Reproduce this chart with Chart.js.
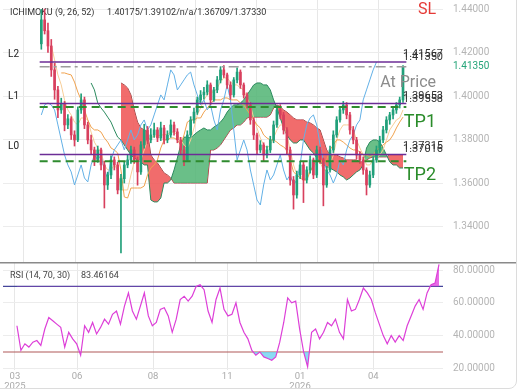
<!DOCTYPE html>
<html>
<head>
<meta charset="utf-8">
<script src="https://cdn.jsdelivr.net/npm/chart.js@4.4.1/dist/chart.umd.min.js"></script>
<style>
  body { margin: 0; background: #fff; }
  #wrap { position: relative; width: 520px; height: 390px; overflow: hidden; }
  #main { position: absolute; left: 0; top: 0; }
  #rsi { position: absolute; left: 0; top: 262px; }
  #frame { position: absolute; left: -12px; top: -12px; width: 529px; height: 401px; border: 1px solid #dcdcdc; border-radius: 8px; box-sizing: border-box; pointer-events: none; }
</style>
</head>
<body>
<div id="wrap">
  <canvas id="main" width="520" height="262"></canvas>
  <canvas id="rsi" width="520" height="128"></canvas>
  <div id="frame"></div>
</div>
<script>
Chart.defaults.font.family = 'Roboto, "Noto Sans", sans-serif';

// candles (daily, sampled)
const opens = [1.4240,1.4350,1.4300,1.4230,1.4120,1.4028,1.3936,1.3965,1.3867,1.3895,
  1.3821,1.3798,1.3936,1.3982,1.3867,1.3798,1.3752,1.3706,1.3752,1.3683,
  1.3591,1.3637,1.3706,1.3683,1.3568,1.3620,1.3683,1.3706,1.3752,1.3706,
  1.3651,1.3775,1.3844,1.3798,1.3821,1.3844,1.3807,1.3853,1.3798,1.3821,
  1.3867,1.3835,1.3798,1.3752,1.3706,1.3821,1.3890,1.3926,1.3982,1.4005,
  1.4018,1.4051,1.3982,1.4028,1.4074,1.4120,1.4097,1.4051,1.4005,1.4074,
  1.4110,1.4051,1.4005,1.3959,1.3890,1.3821,1.3752,1.3775,1.3729,1.3752,
  1.3798,1.3867,1.3936,1.3913,1.3844,1.3752,1.3614,1.3545,1.3637,1.3683,
  1.3614,1.3660,1.3706,1.3637,1.3752,1.3706,1.3591,1.3660,1.3752,1.3821,
  1.3890,1.3936,1.3959,1.3913,1.3844,1.3798,1.3729,1.3706,1.3660,1.3591,
  1.3637,1.3706,1.3752,1.3798,1.3844,1.3890,1.3913,1.3936,1.3959,1.3982];
const highs = [1.4398,1.4400,1.4335,1.4260,1.4150,1.4045,1.3990,1.3975,1.3915,1.3905,
  1.3840,1.3950,1.4010,1.3995,1.3880,1.3820,1.3765,1.3770,1.3760,1.3700,
  1.3650,1.3725,1.3720,1.3695,1.3640,1.3700,1.3730,1.3770,1.3765,1.3720,
  1.3790,1.3870,1.3860,1.3850,1.3875,1.3855,1.3880,1.3865,1.3840,1.3890,
  1.3880,1.3850,1.3810,1.3770,1.3840,1.3905,1.3945,1.3995,1.4025,1.4040,
  1.4070,1.4060,1.4040,1.4090,1.4135,1.4140,1.4105,1.4065,1.4085,1.4130,
  1.4120,1.4060,1.4015,1.3970,1.3900,1.3830,1.3795,1.3785,1.3770,1.3815,
  1.3885,1.3955,1.3960,1.3925,1.3855,1.3765,1.3630,1.3655,1.3700,1.3695,
  1.3675,1.3725,1.3715,1.3770,1.3765,1.3715,1.3675,1.3770,1.3840,1.3905,
  1.3950,1.3975,1.3970,1.3925,1.3860,1.3810,1.3745,1.3720,1.3670,1.3655,
  1.3720,1.3770,1.3815,1.3860,1.3905,1.3925,1.3950,1.3970,1.3995,1.4140];
const lows = [1.4215,1.4285,1.4200,1.4090,1.3985,1.3900,1.3920,1.3840,1.3850,1.3800,
  1.3770,1.3790,1.3920,1.3850,1.3780,1.3730,1.3680,1.3695,1.3660,1.3485,
  1.3570,1.3620,1.3660,1.3550,1.3278,1.3600,1.3670,1.3690,1.3690,1.3590,
  1.3640,1.3760,1.3780,1.3785,1.3810,1.3790,1.3795,1.3780,1.3785,1.3810,
  1.3820,1.3785,1.3735,1.3680,1.3700,1.3810,1.3875,1.3915,1.3970,1.3985,
  1.4005,1.3960,1.3975,1.4015,1.4060,1.4085,1.4035,1.3985,1.3995,1.4060,
  1.4035,1.3990,1.3945,1.3870,1.3800,1.3730,1.3740,1.3700,1.3715,1.3740,
  1.3785,1.3855,1.3895,1.3825,1.3735,1.3590,1.3480,1.3530,1.3620,1.3510,
  1.3600,1.3645,1.3620,1.3625,1.3690,1.3495,1.3580,1.3650,1.3740,1.3810,
  1.3880,1.3920,1.3895,1.3825,1.3780,1.3710,1.3690,1.3640,1.3545,1.3580,
  1.3625,1.3695,1.3740,1.3785,1.3830,1.3870,1.3895,1.3920,1.3945,1.3970];
const closes = [1.4350,1.4300,1.4230,1.4120,1.4028,1.3936,1.3965,1.3867,1.3895,1.3821,
  1.3798,1.3936,1.3982,1.3867,1.3798,1.3752,1.3706,1.3752,1.3683,1.3591,
  1.3637,1.3706,1.3683,1.3568,1.3620,1.3683,1.3706,1.3752,1.3706,1.3651,
  1.3775,1.3844,1.3798,1.3821,1.3844,1.3807,1.3853,1.3798,1.3821,1.3867,
  1.3835,1.3798,1.3752,1.3706,1.3821,1.3890,1.3926,1.3982,1.4005,1.4018,
  1.4051,1.3982,1.4028,1.4074,1.4120,1.4097,1.4051,1.4005,1.4074,1.4110,
  1.4051,1.4005,1.3959,1.3890,1.3821,1.3752,1.3775,1.3729,1.3752,1.3798,
  1.3867,1.3936,1.3913,1.3844,1.3752,1.3614,1.3545,1.3637,1.3683,1.3614,
  1.3660,1.3706,1.3637,1.3752,1.3706,1.3591,1.3660,1.3752,1.3821,1.3890,
  1.3936,1.3959,1.3913,1.3844,1.3798,1.3729,1.3706,1.3660,1.3591,1.3637,
  1.3706,1.3752,1.3798,1.3844,1.3890,1.3913,1.3936,1.3959,1.3982,1.4135];

// ichimoku lines
const tenkan = [null,null,null,1.4234,1.4166,1.4097,1.4051,1.3982,1.3936,1.3913,
  1.3880,1.3867,1.3899,1.3899,1.3890,1.3834,1.3788,1.3761,1.3743,1.3683,
  1.3660,1.3660,1.3683,1.3660,1.3568,1.3568,1.3568,1.3637,1.3697,1.3697,
  1.3706,1.3752,1.3798,1.3807,1.3816,1.3816,1.3821,1.3821,1.3825,1.3834,
  1.3834,1.3821,1.3798,1.3775,1.3761,1.3798,1.3853,1.3913,1.3945,1.3982,
  1.4005,1.4018,1.4018,1.4037,1.4064,1.4083,1.4083,1.4064,1.4051,1.4051,
  1.4037,1.4028,1.3991,1.3959,1.3899,1.3853,1.3807,1.3775,1.3761,1.3775,
  1.3807,1.3844,1.3867,1.3867,1.3821,1.3752,1.3683,1.3637,1.3637,1.3614,
  1.3623,1.3660,1.3669,1.3697,1.3697,1.3660,1.3660,1.3683,1.3729,1.3798,
  1.3844,1.3867,1.3867,1.3867,1.3844,1.3798,1.3761,1.3729,1.3683,1.3683,
  1.3706,1.3715,1.3729,1.3752,1.3798,1.3844,1.3867,1.3890,1.3899,1.3936];
const kijun = [null,null,null,null,null,null,1.4106,1.4106,1.4101,1.4097,
  1.4064,1.4018,1.3982,1.3936,1.3890,1.3857,1.3844,1.3844,1.3834,1.3807,
  1.3788,1.3761,1.3752,1.3738,1.3660,1.3536,1.3531,1.3577,1.3577,1.3577,
  1.3577,1.3586,1.3637,1.3669,1.3683,1.3706,1.3761,1.3798,1.3798,1.3807,
  1.3807,1.3798,1.3775,1.3821,1.3880,1.3890,1.3890,1.3899,1.3899,1.3926,
  1.3945,1.3963,1.3982,1.3982,1.3982,1.3991,1.3991,1.3982,1.3982,1.3982,
  1.3968,1.3959,1.3936,1.3913,1.3890,1.3867,1.3853,1.3821,1.3807,1.3798,
  1.3798,1.3788,1.3775,1.3766,1.3752,1.3706,1.3651,1.3637,1.3623,1.3614,
  1.3614,1.3651,1.3683,1.3706,1.3715,1.3683,1.3706,1.3752,1.3775,1.3798,
  1.3798,1.3788,1.3775,1.3761,1.3752,1.3752,1.3743,1.3729,1.3729,1.3720,
  1.3729,1.3752,1.3761,1.3775,1.3788,1.3798,1.3821,1.3853,1.3880,1.3903];
const chikou = [1.3913,1.3959,1.3968,1.3959,1.3936,1.3867,1.3798,1.3729,1.3683,1.3651,
  1.3591,1.3637,1.3683,1.3623,1.3605,1.3683,1.3729,1.3706,1.3729,1.3660,
  1.3623,1.3706,1.3752,1.3775,1.3798,1.3752,1.3798,1.3844,1.3798,1.3821,
  1.3867,1.3890,1.3844,1.3867,1.3913,1.3959,1.4005,1.3982,1.4051,1.4120,
  1.4097,1.4028,1.4051,1.4074,1.4097,1.4110,1.4051,1.4005,1.3959,1.3982,
  1.3936,1.3959,1.3890,1.3844,1.3936,1.3982,1.4051,1.3982,1.3844,1.3706,
  1.3752,1.3798,1.3752,1.3660,1.3591,1.3522,1.3499,1.3591,1.3660,1.3614,
  1.3637,1.3683,1.3729,1.3660,1.3614,1.3637,1.3591,1.3614,1.3683,1.3798,
  1.3867,1.3899,1.3913,1.3867,1.3775,1.3706,1.3660,1.3637,1.3600,1.3637,
  1.3706,1.3683,1.3752,1.3798,1.3821,1.3867,1.3890,1.3982,1.4028,1.4074,
  1.4120,1.4156,null,null,null,null,null,null,null,null];
const spanA = [null,null,null,null,null,null,null,null,null,null,
  null,null,null,null,null,1.4060,1.4028,1.3968,1.3945,1.3926,
  1.3903,1.3880,1.3844,1.3811,1.3798,1.3775,1.3752,1.3729,1.3715,1.3706,
  1.3697,1.3683,1.3683,1.3522,1.3513,1.3513,1.3531,1.3600,1.3600,1.3614,
  1.3660,1.3715,1.3775,1.3811,1.3811,1.3807,1.3821,1.3834,1.3844,1.3853,
  1.3844,1.3844,1.3857,1.3867,1.3880,1.3899,1.3926,1.3945,1.3959,1.3959,
  1.3968,1.3982,1.4005,1.4028,1.4051,1.4060,1.4060,1.4051,1.4051,1.4028,
  1.3982,1.3945,1.3899,1.3853,1.3821,1.3798,1.3784,1.3784,1.3798,1.3798,
  1.3775,1.3752,1.3738,1.3715,1.3697,1.3683,1.3674,1.3669,1.3660,1.3651,
  1.3637,1.3628,1.3614,1.3623,1.3637,1.3651,1.3660,1.3683,1.3761,1.3788,
  1.3798,1.3798,1.3788,1.3761,1.3729,1.3697,1.3683,1.3683,1.3669,1.3669];
const spanB = [null,null,null,null,null,null,null,null,null,null,
  null,null,null,null,null,null,null,null,null,null,
  null,null,null,null,1.4060,1.4051,1.4037,1.4005,1.3936,1.3880,
  1.3853,1.3844,1.3834,1.3729,1.3706,1.3692,1.3669,1.3646,1.3637,1.3623,
  1.3600,1.3600,1.3600,1.3600,1.3600,1.3600,1.3600,1.3600,1.3600,1.3600,
  1.3600,1.3752,1.3752,1.3761,1.3775,1.3798,1.3821,1.3844,1.3853,1.3867,
  1.3867,1.3880,1.3899,1.3903,1.3903,1.3903,1.3903,1.3903,1.3903,1.3913,
  1.3945,1.3959,1.3950,1.3936,1.3926,1.3913,1.3899,1.3890,1.3890,1.3890,
  1.3880,1.3876,1.3867,1.3853,1.3844,1.3798,1.3752,1.3729,1.3729,1.3729,
  1.3720,1.3715,1.3706,1.3706,1.3706,1.3706,1.3697,1.3697,1.3706,1.3715,
  1.3720,1.3720,1.3720,1.3720,1.3720,1.3729,1.3729,1.3729,1.3729,1.3729];

// RSI (14)
const rsiValues = [null,null,null,46,31,35,33,36,37,34,
  44,51,49,47,45,33,42,38,35,28,
  46,42,48,41,45,50,47,53,55,47,
  58,66,55,50,58,66,52,46,48,56,
  57,52,42,50,62,64,61,64,70,71,
  68,55,48,62,69,56,52,53,60,48,
  42,38,31,28,30,27,26,25,27,36,
  48,63,60,61,44,30,21,42,44,38,
  42,48,46,50,42,38,62,55,56,62,
  69,66,62,54,47,40,35,40,36,40,
  37,46,52,58,62,56,66,71,72,83.46164];

// levels
const levelNames = ['L2', 'L1', 'L0'];
const levelValues = [1.41567, 1.39653, 1.37315];
const levelTags = ['1.41567', '1.39653', '1.37315'];
const levelTags2 = ['1.41350', '1.39558', '1.37016'];
const lastPrice = 1.41350;
const tpNames = ['TP1', 'TP2'];
const tpValues = [1.3950, 1.3700];
const rsiBands = [70, 30];

// x axis ticks (candle index) and their labels
const tickIdx = [2.5, 18.1, 37.2, 55.8, 74.1, 92.5];
const tickText = [['03', '2025'], ['06'], ['08'], ['11'], ['01', '2026'], ['04']];

const xy = arr => arr.map((v, i) => ({ x: i, y: v }));
const hline = v => [{ x: -0.5, y: v }, { x: 110, y: v }];
const candleColor = closes.map((c, i) => c >= opens[i] ? '#21a07a' : '#d8405e');

const xGrid = { color: '#e7e7e7', drawTicks: false };
const setTicks = s => { s.ticks = tickIdx.map(v => ({ value: v })); };
const fixY = s => { s.width = 77; s.paddingTop = 0; s.paddingBottom = 0; };

// Texte oppå hovedgrafen
const mainText = {
  id: 'mainText',
  beforeDatasetsDraw(chart) {
    const ctx = chart.ctx;
    ctx.save();
    ctx.font = '9px Roboto';
    ctx.fillStyle = '#333';
    ctx.textBaseline = 'middle';
    ctx.fillText('ICHIMOKU (9, 26, 52)', 10, 13);
    ctx.fillText('1.40175/1.39102/n/a/1.36709/1.37330', 107, 13);
    ctx.restore();
  },
  afterDatasetsDraw(chart) {
    const { ctx, scales: { y } } = chart;
    ctx.save();
    ctx.textBaseline = 'alphabetic';
    levelValues.forEach((v, i) => {
      const py = y.getPixelForValue(v);
      ctx.font = '10px Roboto';
      ctx.fillStyle = '#222';
      ctx.textAlign = 'left';
      ctx.fillText(levelNames[i], 8, py - 5);
      ctx.font = '11px Roboto';
      ctx.fillStyle = '#333';
      ctx.textAlign = 'right';
      ctx.fillText(levelTags2[i], 443, py - 2);
      ctx.fillText(levelTags[i], 443, py - 5);
    });
    ctx.textAlign = 'right';
    ctx.font = '16px Roboto';
    ctx.fillStyle = '#e53935';
    ctx.fillText('SL', 436, 14);
    ctx.fillStyle = '#8c8c8c';
    ctx.fillText('At Price', 436, 87);
    ctx.font = '18px Roboto';
    ctx.fillStyle = '#2a8c2a';
    ctx.fillText(tpNames[0], 436, 127);
    ctx.fillText(tpNames[1], 436, 180);
    ctx.restore();
  },
  afterDraw(chart) {
    const { ctx, scales: { y } } = chart;
    ctx.save();
    ctx.font = '10px Roboto';
    ctx.fillStyle = '#26a57a';
    ctx.textBaseline = 'middle';
    ctx.fillText(lastPrice.toFixed(5), 453, y.getPixelForValue(lastPrice));
    ctx.restore();
  }
};

new Chart(document.getElementById('main').getContext('2d'), {
  data: {
    datasets: [
      { type: 'line', data: xy(spanB), borderColor: '#a8343f', borderWidth: 1, pointRadius: 0, order: 20 },
      { type: 'line', data: xy(spanA), borderColor: '#2b8a5e', borderWidth: 1, pointRadius: 0, order: 19,
        fill: { target: 0, above: 'rgba(80,180,115,0.85)', below: 'rgba(240,92,92,0.9)' } },
      { type: 'line', data: xy(tenkan), borderColor: '#f7cd96', borderWidth: 1, pointRadius: 0, order: 16 },
      { type: 'line', data: xy(kijun), borderColor: '#f0a24e', borderWidth: 1, pointRadius: 0, order: 15 },
      { type: 'line', data: xy(chikou), borderColor: '#62b0e6', borderWidth: 1, pointRadius: 0, order: 14 },
      { type: 'bar', data: lows.map((l, i) => ({ x: i, y: [l, highs[i]] })), backgroundColor: candleColor,
        barThickness: 1, grouped: false, order: 12 },
      { type: 'bar', data: opens.map((o, i) => ({ x: i, y: [o, closes[i]] })), backgroundColor: candleColor,
        barThickness: 2, minBarLength: 1, grouped: false, order: 11 },
      ...levelValues.map(v => ({ type: 'line', data: hline(v), borderColor: '#6c2d96', borderWidth: 1.5, pointRadius: 0, order: 2 })),
      { type: 'line', data: hline(lastPrice), borderColor: '#9c9c9c', borderWidth: 1.5, borderDash: [10, 4, 3, 4], pointRadius: 0, order: 3 },
      ...tpValues.map(v => ({ type: 'line', data: hline(v), borderColor: '#2e8b2e', borderWidth: 2, borderDash: [8, 5], pointRadius: 0, order: 2 }))
    ]
  },
  options: {
    responsive: false,
    devicePixelRatio: 1,
    animation: false,
    layout: { padding: { left: 3, right: 0, top: 0, bottom: 0 } },
    plugins: { legend: { display: false }, tooltip: { enabled: false } },
    scales: {
      x: {
        type: 'linear', min: -0.5, max: 110,
        afterBuildTicks: setTicks,
        afterFit: s => { s.height = 0; },
        ticks: { display: false },
        grid: xGrid,
        border: { display: false }
      },
      y: {
        position: 'right', min: 1.32368, max: 1.44414,
        afterFit: fixY,
        ticks: { stepSize: 0.02, includeBounds: false, padding: 10, color: '#b5b5b5', font: { size: 10 },
          callback: v => v.toFixed(5) },
        grid: { color: '#ececec', drawTicks: false },
        border: { display: false }
      }
    }
  },
  plugins: [mainText]
});

// RSI-panel
const rsiText = {
  id: 'rsiText',
  beforeDatasetsDraw(chart) {
    const ctx = chart.ctx;
    ctx.save();
    ctx.fillStyle = '#8a8a8a';
    ctx.fillRect(0, 0, 516, 1.5);
    ctx.font = '9px Roboto';
    ctx.fillStyle = '#444';
    ctx.textBaseline = 'middle';
    ctx.fillText('RSI (14, 70, 30)', 10, 14);
    ctx.fillText(rsiValues[rsiValues.length - 1].toFixed(5), 81, 14);
    ctx.restore();
  }
};

new Chart(document.getElementById('rsi').getContext('2d'), {
  type: 'line',
  data: {
    datasets: [
      { data: xy(rsiValues), borderColor: '#dd3fd8', borderWidth: 1.2, pointRadius: 0, order: 1,
        fill: { target: { value: rsiBands[0] }, above: 'rgba(226,70,224,0.8)', below: 'rgba(0,0,0,0)' } },
      { data: xy(rsiValues), borderColor: 'rgba(0,0,0,0)', borderWidth: 0, pointRadius: 0, order: 2,
        fill: { target: { value: rsiBands[1] }, above: 'rgba(0,0,0,0)', below: 'rgba(110,210,240,0.8)' } },
      { data: hline(rsiBands[0]), borderColor: '#45459a', borderWidth: 1.2, pointRadius: 0, order: 3 },
      { data: hline(rsiBands[1]), borderColor: '#b05858', borderWidth: 1.2, pointRadius: 0, order: 3 }
    ]
  },
  options: {
    responsive: false,
    devicePixelRatio: 1,
    animation: false,
    layout: { padding: { left: 3, right: 0, top: 1, bottom: 0 } },
    plugins: { legend: { display: false }, tooltip: { enabled: false } },
    scales: {
      x: {
        type: 'linear', min: -0.5, max: 110,
        afterBuildTicks: setTicks,
        afterFit: s => { s.height = 20; },
        ticks: { color: '#aaa', font: { size: 9.5, lineHeight: 1.0 }, padding: 2, maxRotation: 0, autoSkip: false,
          callback: (v, i) => tickText[i] },
        grid: xGrid,
        border: { display: false }
      },
      y: {
        position: 'right', min: 19.02, max: 84.27,
        afterFit: fixY,
        ticks: { stepSize: 20, includeBounds: false, padding: 10, color: '#b5b5b5', font: { size: 10 },
          callback: v => v.toFixed(5) },
        grid: { color: '#ececec', drawTicks: false },
        border: { display: false }
      }
    }
  },
  plugins: [rsiText]
});
</script>
</body>
</html>
